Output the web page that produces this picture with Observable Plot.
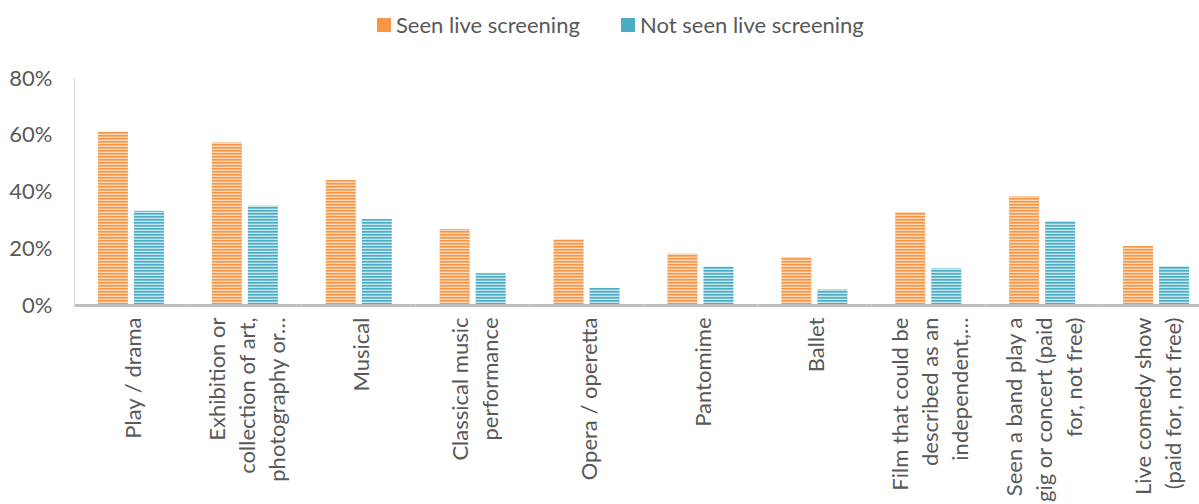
<!DOCTYPE html>
<html><head><meta charset="utf-8">
<script src="https://cdn.jsdelivr.net/npm/d3@7"></script>
<script src="https://cdn.jsdelivr.net/npm/@observablehq/plot@0.6"></script>
<style>
html,body{margin:0;padding:0;background:#fff;width:1199px;height:504px;overflow:hidden;font-family:Lato,sans-serif;}
#legend{position:relative;height:48px;width:1199px;}
.item{position:absolute;top:13px;display:flex;align-items:center;font-size:22px;color:#595959;line-height:24px;white-space:nowrap;}
.sw{width:14px;height:14px;margin-right:5px;}
#chart{width:1199px;overflow:hidden;}
</style></head><body>
<div id="legend"></div>
<div id="chart"></div>
<script>
const categories = ["Play / drama","Exhibition","Musical","Classical music","Opera / operetta","Pantomime","Ballet","Film","Band","Live comedy"];
const tickLabels = [
  "Play / drama",
  "Exhibition or\ncollection of art,\nphotography or…",
  "Musical",
  "Classical music\nperformance",
  "Opera / operetta",
  "Pantomime",
  "Ballet",
  "Film that could be\ndescribed as an\nindependent,…",
  "Seen a band play a\ngig or concert (paid\nfor, not free)",
  "Live comedy show\n(paid for, not free)"
];
const seriesNames = ["Seen live screening","Not seen live screening"];
const seenValues = [0.611, 0.573, 0.441, 0.268, 0.232, 0.181, 0.169, 0.328, 0.383, 0.208];
const notSeenValues = [0.332, 0.350, 0.303, 0.112, 0.060, 0.136, 0.055, 0.129, 0.296, 0.137];
const yTicks = [0, 0.2, 0.4, 0.6, 0.8];
const seriesColors = ["#F79646", "#4BACC6"];
const midColors = ["#F9AE72", "#79C1D4"];
const stripeColors = ["#FCD8BA", "#C6E6EE"];

const rows = [];
categories.forEach((c, i) => {
  rows.push({category: c, series: seriesNames[0], value: seenValues[i]});
  rows.push({category: c, series: seriesNames[1], value: notSeenValues[i]});
});
const labelOf = new Map(categories.map((c, i) => [c, tickLabels[i]]));

// legend
const legend = document.getElementById("legend");
const legendLeft = [377, 621];
seriesNames.forEach((s, i) => {
  const it = document.createElement("div");
  it.className = "item";
  it.style.left = legendLeft[i] + "px";
  const sw = document.createElement("div");
  sw.className = "sw";
  sw.style.background = seriesColors[i];
  const t = document.createElement("span");
  t.textContent = s;
  it.append(sw, t);
  legend.append(it);
});

const chart = Plot.plot({
  width: 1213,
  height: 456,
  marginLeft: 74,
  marginRight: 0,
  marginTop: 30,
  marginBottom: 199,
  style: {fontFamily: "Lato, sans-serif", fontSize: "22px", color: "#595959", background: "transparent", overflow: "visible", maxWidth: "none"},
  fx: {domain: categories, paddingInner: 0, paddingOuter: 0, round: false},
  x: {domain: seriesNames, paddingInner: 0.1667, paddingOuter: 0.664, round: false, axis: null},
  y: {domain: [0, 0.8]},
  marks: [
    Plot.barY(rows.filter(d => d.series === seriesNames[0]), {fx: "category", x: "series", y: "value", fill: "url(#stripe0)"}),
    Plot.barY(rows.filter(d => d.series === seriesNames[1]), {fx: "category", x: "series", y: "value", fill: "url(#stripe1)"}),
    Plot.ruleY([0], {stroke: "#BFBFBF", strokeWidth: 3}),
    Plot.frame({anchor: "left", stroke: "#D9D9D9", facet: "super"}),
    Plot.axisY({ticks: yTicks, tickFormat: d3.format(".0%"), tickSize: 0, tickPadding: 22, fontSize: 22, fill: "#595959", label: null}),
    Plot.axisFx({anchor: "bottom", tickSize: 0, tickPadding: 12, tickRotate: -90, fontSize: 22, lineHeight: 1.36, fill: "#595959", label: null, tickFormat: d => labelOf.get(d)})
  ]
});

// stripe patterns
const ns = "http://www.w3.org/2000/svg";
const defs = document.createElementNS(ns, "defs");
seriesColors.forEach((c, i) => {
  const p = document.createElementNS(ns, "pattern");
  p.setAttribute("id", "stripe" + i);
  p.setAttribute("patternUnits", "userSpaceOnUse");
  p.setAttribute("width", 8);
  p.setAttribute("height", 3);
  [[0, c], [1, midColors[i]], [2, stripeColors[i]]].forEach(([y, col]) => {
    const r = document.createElementNS(ns, "rect");
    r.setAttribute("y", y); r.setAttribute("width", 8); r.setAttribute("height", 1); r.setAttribute("fill", col);
    p.append(r);
  });
  defs.append(p);
});
chart.insertBefore(defs, chart.firstChild);
document.getElementById("chart").append(chart);
</script>
</body></html>
